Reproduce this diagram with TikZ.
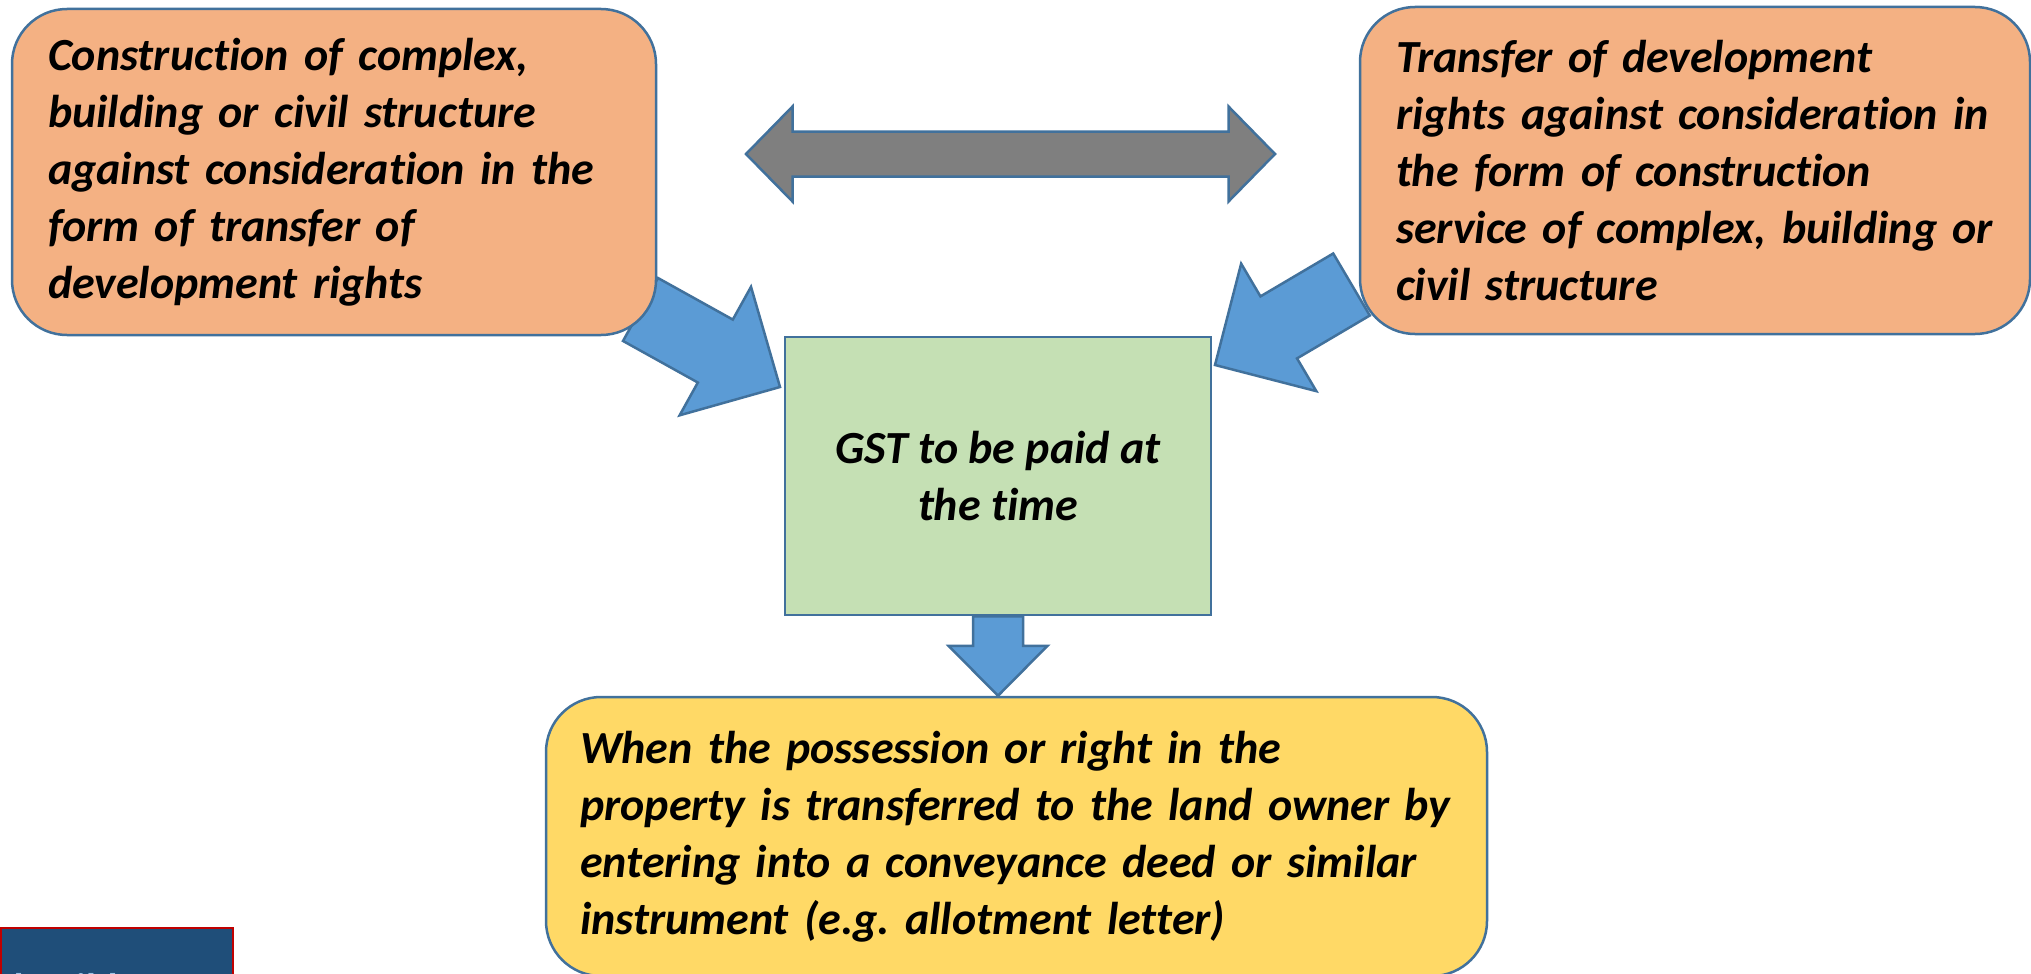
\documentclass[tikz,border=0pt]{standalone}
\usepackage{fontspec}
\setmainfont{Carlito}[Ligatures=NoCommon]
\usetikzlibrary{calc,backgrounds}
\frenchspacing

\definecolor{boxline}{HTML}{41719C}
\definecolor{peach}{HTML}{F4B183}
\definecolor{mint}{HTML}{C5E0B4}
\definecolor{sand}{HTML}{FFD966}
\definecolor{arrowblue}{HTML}{5B9BD5}
\definecolor{arrowgrey}{HTML}{7F7F7F}
\definecolor{tagblue}{HTML}{1F4E79}
\definecolor{tagred}{HTML}{C00000}
\definecolor{taglight}{HTML}{9DC3E6}

\tikzset{
  textstyle/.style={font=\fontsize{46}{57}\selectfont\bfseries\itshape, text=black},
  roundbox/.style={textstyle, draw=boxline, line width=2.5pt, rounded corners=55pt,
    align=left, inner xsep=36pt, inner ysep=0pt},
  squarebox/.style={textstyle, draw=boxline, line width=2.5pt, fill=mint, align=center},
  bluearrow/.style={fill=arrowblue, draw=boxline, line width=2.5pt, line join=miter},
  greyarrow/.style={fill=arrowgrey, draw=boxline, line width=2.5pt, line join=miter},
  tagbox/.style={fill=tagblue, draw=tagred, line width=2pt, inner sep=0pt},
  tagtext/.style={font=\fontsize{40}{48}\selectfont\bfseries, text=taglight, inner sep=0pt}
}

% single block arrow: #1 prefix, #2 tail, #3 tip, #4 half shaft, #5 half head, #6 head length, #7 style
\newcommand\blockarrow[7]{%
  \coordinate (#1h) at ($(#3)!#6!(#2)$);
  \filldraw[#7]
    ($(#2)!#4!90:(#3)$) -- ($(#1h)!#4!90:(#3)$) -- ($(#1h)!#5!90:(#3)$) -- (#3)
    -- ($(#1h)!#5!-90:(#3)$) -- ($(#1h)!#4!-90:(#3)$) -- ($(#2)!#4!-90:(#3)$) -- cycle;
}
% double block arrow: #1 prefix, #2 tip A, #3 tip B, #4 half shaft, #5 half head, #6 head length, #7 style
\newcommand\twowayarrow[7]{%
  \coordinate (#1a) at ($(#2)!#6!(#3)$);
  \coordinate (#1b) at ($(#3)!#6!(#2)$);
  \filldraw[#7]
    (#2) -- ($(#1a)!#5!90:(#3)$) -- ($(#1a)!#4!90:(#3)$) -- ($(#1b)!#4!-90:(#2)$)
    -- ($(#1b)!#5!-90:(#2)$) -- (#3) -- ($(#1b)!#5!90:(#2)$) -- ($(#1b)!#4!90:(#2)$)
    -- ($(#1a)!#4!-90:(#3)$) -- ($(#1a)!#5!-90:(#3)$) -- cycle;
}

\begin{document}
\begin{tikzpicture}[x=1pt, y=-1pt]
  \useasboundingbox (0,0) rectangle (2031,974);

  % boxes
  \node[roundbox, fill=peach, minimum width=644pt, minimum height=326pt, text width=572pt]
    (works) at (334,172)
    {Construction of complex,\\ building or civil structure\\ against consideration in the\\
     form of transfer of\\ development rights};
  \node[roundbox, fill=peach, minimum width=670pt, minimum height=327pt, text width=598pt]
    (rights) at (1695,170.5)
    {Transfer of development\\ rights against consideration in\\ the form of construction\\
     service of complex, building or\\ civil structure};
  \node[squarebox, minimum width=426pt, minimum height=278pt] (gst) at (998,476)
    {GST to be paid at\\ the time};
  \node[roundbox, fill=sand, minimum width=941pt, minimum height=279pt, text width=873pt,
    inner xsep=34pt] (when) at (1016.5,836.5)
    {When the possession or right in the\\ property is transferred to the land owner by\\
     entering into a conveyance deed or similar\\ instrument (e.g. allotment letter)};

  % corner tag
  \node[tagbox, anchor=north west, minimum width=232pt, minimum height=90pt] (tag) at (0,927) {};
  \node[tagtext, anchor=base west] (tagname) at ($(tag.north west)+(2,74)$) {d Builders};

  % free ends of the block arrows
  \coordinate (ltail) at (640.5,309.5);
  \coordinate (ltip) at (780,387);
  \coordinate (rtail) at (1351.5,284.5);
  \coordinate (rtip) at (1215,365);
  \coordinate (xleft) at (746,154);
  \coordinate (xright) at (1275,154);

  \begin{scope}[on background layer]
    \fill[white] (0,0) rectangle (2031,974);
    \blockarrow{la}{ltail}{ltip}{36pt}{73.5pt}{74pt}{bluearrow}
    \blockarrow{ra}{rtail}{rtip}{36pt}{74pt}{74pt}{bluearrow}
    \blockarrow{da}{gst.south}{gst.south |- when.north}{25pt}{49.5pt}{50pt}{bluearrow}
    \twowayarrow{xa}{xleft}{xright}{22.5pt}{47.5pt}{46.5pt}{greyarrow}
  \end{scope}
\end{tikzpicture}
\end{document}
